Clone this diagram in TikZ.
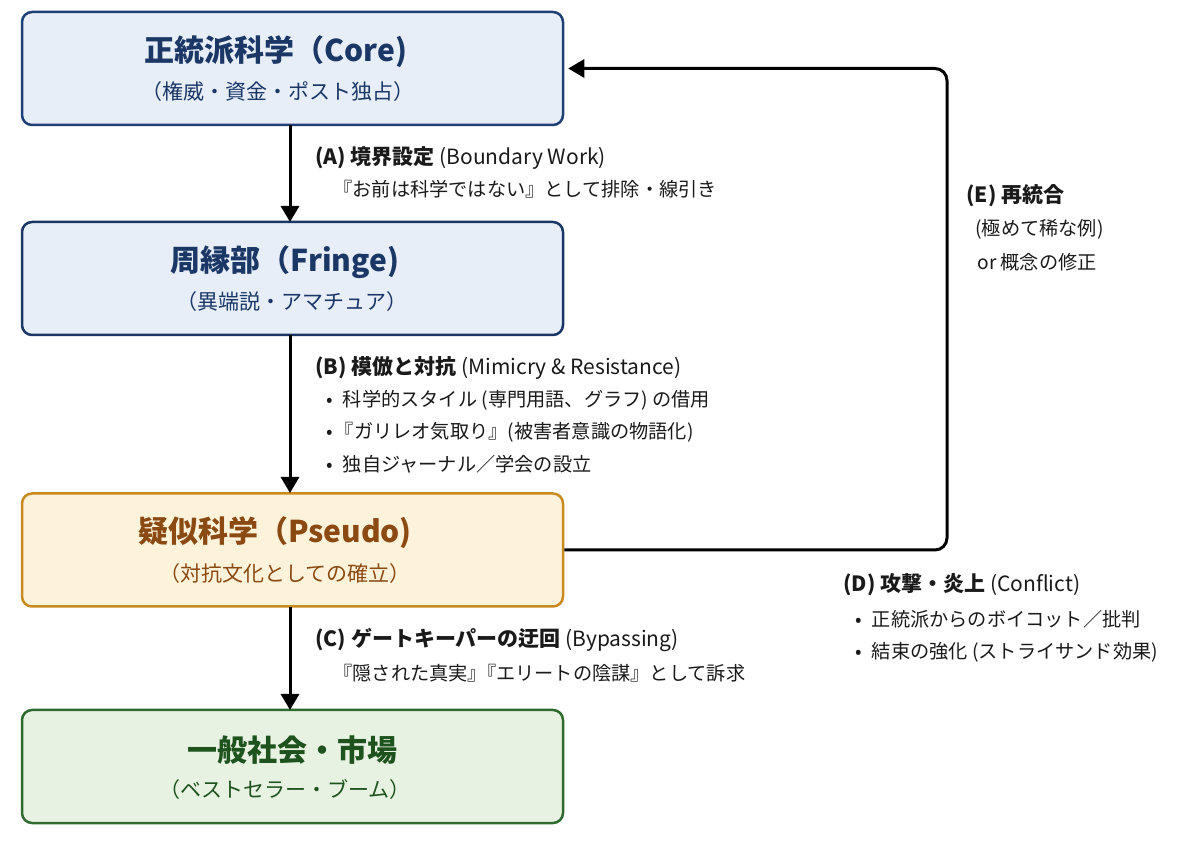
\documentclass[tikz,border=0pt]{standalone}
\usepackage{fontspec}
\setmainfont{Noto Sans CJK JP}
\usetikzlibrary{arrows.meta}
\definecolor{coreB}{HTML}{1F3F77}
\definecolor{coreF}{HTML}{E7EEF8}
\definecolor{coreT}{HTML}{1A3766}
\definecolor{psB}{HTML}{C98A1F}
\definecolor{psF}{HTML}{FDF2DA}
\definecolor{psT}{HTML}{8A4A12}
\definecolor{pubB}{HTML}{2F6A30}
\definecolor{pubF}{HTML}{E8F2E2}
\definecolor{pubT}{HTML}{1E531E}
\definecolor{txt}{HTML}{1A1A1A}
\tikzset{
  box/.style={draw, line width=1.25pt, rounded corners=5pt, minimum width=270.5pt, minimum height=56.5pt, inner sep=0pt},
  ttl/.style={font=\fontsize{15}{18}\selectfont\bfseries, inner sep=0pt},
  sub/.style={font=\fontsize{10.5}{12}\selectfont, inner sep=0pt},
  hd/.style={font=\fontsize{10.5}{12}\selectfont, text=txt, anchor=west, inner sep=0pt},
  ln/.style={font=\fontsize{9.6}{12}\selectfont, text=txt, anchor=west, inner sep=0pt},
  conn/.style={line width=1.5pt, -{Triangle[length=8pt,width=9pt]}, black}
}
\begin{document}
\begin{tikzpicture}[x=0.5pt,y=-0.5pt]
\useasboundingbox (0,0) rectangle (1200,849);
\fill[white] (0,0) rectangle (1200,849);
% boxes
\node[box, draw=coreB, fill=coreF] (core) at (292.5,68.5) {};
\node[box, draw=coreB!85!black, fill=coreF] (fringe) at (292.5,278.5) {};
\node[box, draw=psB, fill=psF] (pseudo) at (292.5,550) {};
\node[box, draw=pubB, fill=pubF] (pub) at (292.5,766.5) {};
% box texts
\node[ttl, text=coreT] (coreA) at (276,52) {正統派科学（Core)};
\node[sub, text=coreT] (coreB) at (278,92) {（権威・資金・ポスト独占）};
\node[ttl, text=coreT] (fringeA) at (285,262) {周縁部（Fringe)};
\node[sub, text=coreT] (fringeB) at (292,302) {（異端説・アマチュア）};
\node[ttl, text=psT] (psA) at (275,533) {疑似科学（Pseudo)};
\node[sub, text=psT] (psB) at (285,574) {（対抗文化としての確立）};
\node[ttl, text=pubT] (pubA) at (292.5,750) {一般社会・市場};
\node[sub, text=pubT] (pubB) at (285,790) {（ベストセラー・ブーム）};
% vertical connectors
\draw[conn] (290,125) -- (290,222);
\draw[conn] (290,335) -- (290,493);
\draw[conn] (290,607) -- (290,710);
% feedback connector
\coordinate (eline) at (947,300);
\draw[conn, rounded corners=6pt] (pseudo.east) -- (pseudo.east -| eline) -- (core.east -| eline) -- ([xshift=2pt]core.east);
% labels A
\node[hd] (la) at (315,158) {\textbf{(A) 境界設定} (Boundary Work)};
\node[ln] (la2) at (333,189) {『お前は科学ではない』として排除・線引き};
% labels B
\node[hd] (lb) at (315,368) {\textbf{(B) 模倣と対抗} (Mimicry \& Resistance)};
\node[ln] (lb1) at (326,400) {•\hspace{5pt}科学的スタイル (専門用語、グラフ) の借用};
\node[ln] (lb2) at (326,432) {•\hspace{1pt}『ガリレオ気取り』(被害者意識の物語化)};
\node[ln] (lb3) at (326,464) {•\hspace{5pt}独自ジャーナル／学会の設立};
% labels C
\node[hd] (lc) at (315,640) {\textbf{(C) ゲートキーパーの迂回} (Bypassing)};
\node[ln] (lc2) at (333,673) {『隠された真実』\hspace{-5pt}『エリートの陰謀』として訴求};
% labels D
\node[hd] (ld) at (843,585) {\textbf{(D) 攻撃・炎上} (Conflict)};
\node[ln] (ld1) at (855,619) {•\hspace{5pt}正統派からのボイコット／批判};
\node[ln] (ld2) at (855,652) {•\hspace{5pt}結束の強化 (ストライサンド効果)};
% labels E
\node[hd] (le) at (966,196) {\textbf{(E) 再統合}};
\node[ln] (le1) at (975,229) {(極めて稀な例)};
\node[ln] (le2) at (977,262) {or 概念の修正};
\end{tikzpicture}
\end{document}
